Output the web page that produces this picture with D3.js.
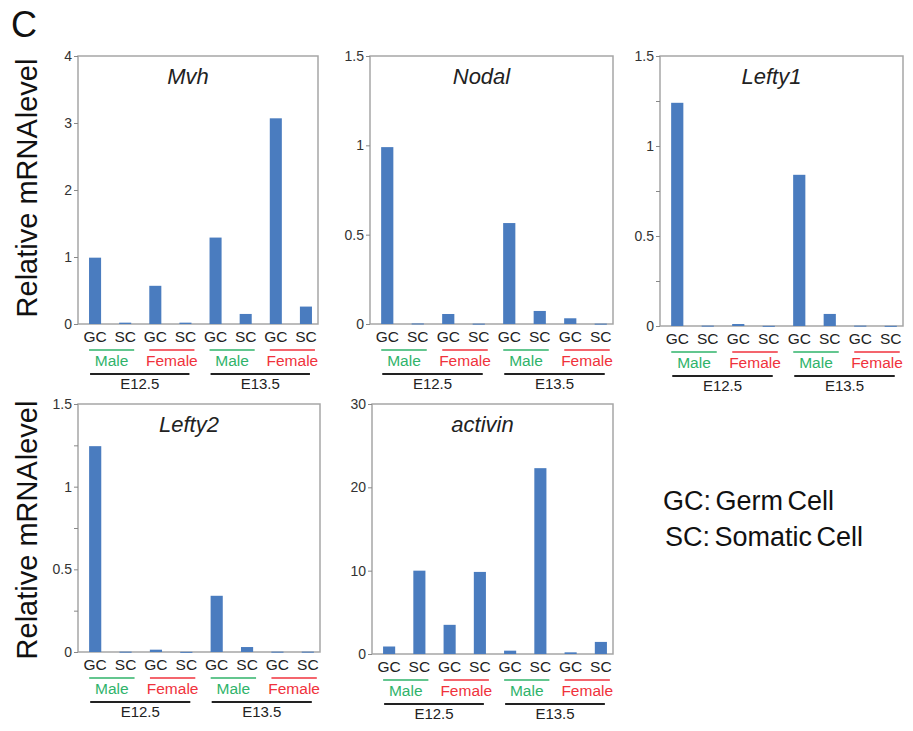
<!DOCTYPE html>
<html>
<head>
<meta charset="utf-8">
<script src="https://cdn.jsdelivr.net/npm/d3@7"></script>
<style>
  body { margin: 0; background: #fff; }
  text { font-family: "Liberation Sans", Arial, sans-serif; }
</style>
</head>
<body>
<script>
// data
const cellLabels = ["GC", "SC", "GC", "SC", "GC", "SC", "GC", "SC"];
const sexLabels = ["Male", "Female", "Male", "Female"];
const stageLabels = ["E12.5", "E13.5"];
const genes = ["Mvh", "Nodal", "Lefty1", "Lefty2", "activin"];

const mvh     = [0.99, 0.02, 0.57, 0.02, 1.29, 0.15, 3.07, 0.26];
const nodal   = [0.99, 0.003, 0.056, 0.002, 0.565, 0.073, 0.032, 0.002];
const lefty1  = [1.24, 0.002, 0.011, 0.001, 0.84, 0.067, 0.002, 0.001];
const lefty2  = [1.245, 0.002, 0.014, 0.001, 0.34, 0.03, 0.002, 0.002];
const activin = [0.9, 10.0, 3.5, 9.85, 0.4, 22.3, 0.2, 1.45];

const yMax = [4, 1.5, 1.5, 1.5, 30];
const majorTicks = [[0, 1, 2, 3, 4], [0, 0.5, 1, 1.5], [0, 0.5, 1, 1.5], [0, 0.5, 1, 1.5], [0, 10, 20, 30]];
const minorTicks = [[], [], [0.25, 0.75, 1.25], [0.25, 0.75, 1.25], []];

const series = [mvh, nodal, lefty1, lefty2, activin];

// panel frames
const frames = [
  {x0: 78, x1: 318, y0: 56, y1: 324},
  {x0: 370, x1: 613, y0: 56, y1: 324},
  {x0: 660, x1: 903, y0: 56, y1: 326},
  {x0: 78, x1: 320, y0: 404, y1: 652},
  {x0: 372, x1: 613, y0: 404, y1: 654}
];

const W = 913, H = 731;
const barColor = "#4a7cbf";
const green = "#2fb36a", red = "#f0323c";

const svg = d3.select("body").append("svg")
  .attr("width", W).attr("height", H);

svg.append("text")
  .attr("x", 11).attr("y", 37)
  .style("font-size", "36px")
  .attr("fill", "#111")
  .text("C");

genes.forEach((gene, gi) => {
  const f = frames[gi];
  const vals = series[gi];
  const idx = d3.range(vals.length);

  const x = d3.scaleBand()
    .domain(idx)
    .range([f.x0 + 2, f.x1 + 3])
    .paddingInner(0.6)
    .paddingOuter(0.3);
  const y = d3.scaleLinear()
    .domain([0, yMax[gi]])
    .range([f.y1, f.y0]);

  const g = svg.append("g");

  // frame
  g.append("rect")
    .attr("x", f.x0).attr("y", f.y0)
    .attr("width", f.x1 - f.x0).attr("height", f.y1 - f.y0)
    .attr("fill", "none")
    .attr("stroke", "#a6a6a6")
    .attr("stroke-width", 1.5);

  // bars
  g.selectAll("rect.bar")
    .data(vals)
    .join("rect")
    .attr("class", "bar")
    .attr("x", (d, i) => x(i))
    .attr("width", x.bandwidth())
    .attr("y", d => y(d))
    .attr("height", d => Math.max(1, f.y1 - y(d)))
    .attr("fill", barColor);

  // y axis
  const yAxis = d3.axisLeft(y)
    .tickValues(majorTicks[gi])
    .tickFormat(d3.format("~g"))
    .tickSize(4)
    .tickPadding(2);
  const ya = g.append("g")
    .attr("transform", `translate(${f.x0},0)`)
    .call(yAxis);
  ya.select(".domain").remove();
  ya.selectAll("line").attr("stroke", "#888");
  ya.selectAll("text")
    .style("font-size", "14px")
    .style("font-family", "'Liberation Sans', Arial, sans-serif")
    .attr("fill", "#333");

  if (minorTicks[gi].length) {
    const ym = g.append("g")
      .attr("transform", `translate(${f.x0},0)`)
      .call(d3.axisLeft(y).tickValues(minorTicks[gi]).tickSize(4).tickFormat(""));
    ym.select(".domain").remove();
    ym.selectAll("line").attr("stroke", "#888");
  }

  // x axis: GC/SC labels
  const xa = g.append("g")
    .attr("transform", `translate(0,${f.y1})`)
    .call(d3.axisBottom(x).tickSize(0).tickPadding(7).tickFormat(i => cellLabels[i]));
  xa.select(".domain").remove();
  xa.selectAll("text")
    .style("font-size", "15.5px")
    .style("font-family", "'Liberation Sans', Arial, sans-serif")
    .attr("fill", "#222");

  const cx = i => x(i) + x.bandwidth() / 2;

  // sex groups
  sexLabels.forEach((s, k) => {
    const a = cx(2 * k) - 6, b = cx(2 * k + 1) + 9;
    const col = s === "Male" ? green : red;
    g.append("line")
      .attr("x1", a).attr("x2", b)
      .attr("y1", f.y1 + 26).attr("y2", f.y1 + 26)
      .attr("stroke", col).attr("stroke-width", 1.6);
    g.append("text")
      .attr("x", (a + b) / 2).attr("y", f.y1 + 42)
      .attr("text-anchor", "middle")
      .attr("fill", col)
      .style("font-size", "15.5px")
      .text(s);
  });

  // stage groups
  stageLabels.forEach((s, k) => {
    const a = cx(4 * k) - 5, b = cx(4 * k + 3) + 4;
    g.append("line")
      .attr("x1", a).attr("x2", b)
      .attr("y1", f.y1 + 50).attr("y2", f.y1 + 50)
      .attr("stroke", "#222").attr("stroke-width", 2);
    g.append("text")
      .attr("x", (a + b) / 2).attr("y", f.y1 + 65)
      .attr("text-anchor", "middle")
      .attr("fill", "#222")
      .style("font-size", "15px")
      .text(s);
  });

  // gene title
  g.append("text")
    .attr("x", (f.x0 + f.x1) / 2 - 10)
    .attr("y", f.y0 + 28)
    .attr("text-anchor", "middle")
    .style("font-size", "22px")
    .style("font-style", "italic")
    .attr("fill", "#222")
    .text(gene);
});

// y axis titles
[ (56 + 324) / 2 - 2, (404 + 652) / 2 + 2 ].forEach(cy => {
  const t = svg.append("text")
    .attr("transform", `translate(37,${cy}) rotate(-90)`)
    .attr("text-anchor", "middle")
    .style("font-size", "29px")
    .attr("fill", "#111");
  t.append("tspan").text("Relative mRNA");
  t.append("tspan").attr("dx", 1).text("level");
});

// legend
svg.append("text")
  .attr("x", 663).attr("y", 510)
  .style("font-size", "27px")
  .style("word-spacing", "-3px")
  .attr("fill", "#111")
  .text("GC: Germ Cell");
svg.append("text")
  .attr("x", 665).attr("y", 546)
  .style("font-size", "27px")
  .style("word-spacing", "-3px")
  .attr("fill", "#111")
  .text("SC: Somatic Cell");
</script>
</body>
</html>
